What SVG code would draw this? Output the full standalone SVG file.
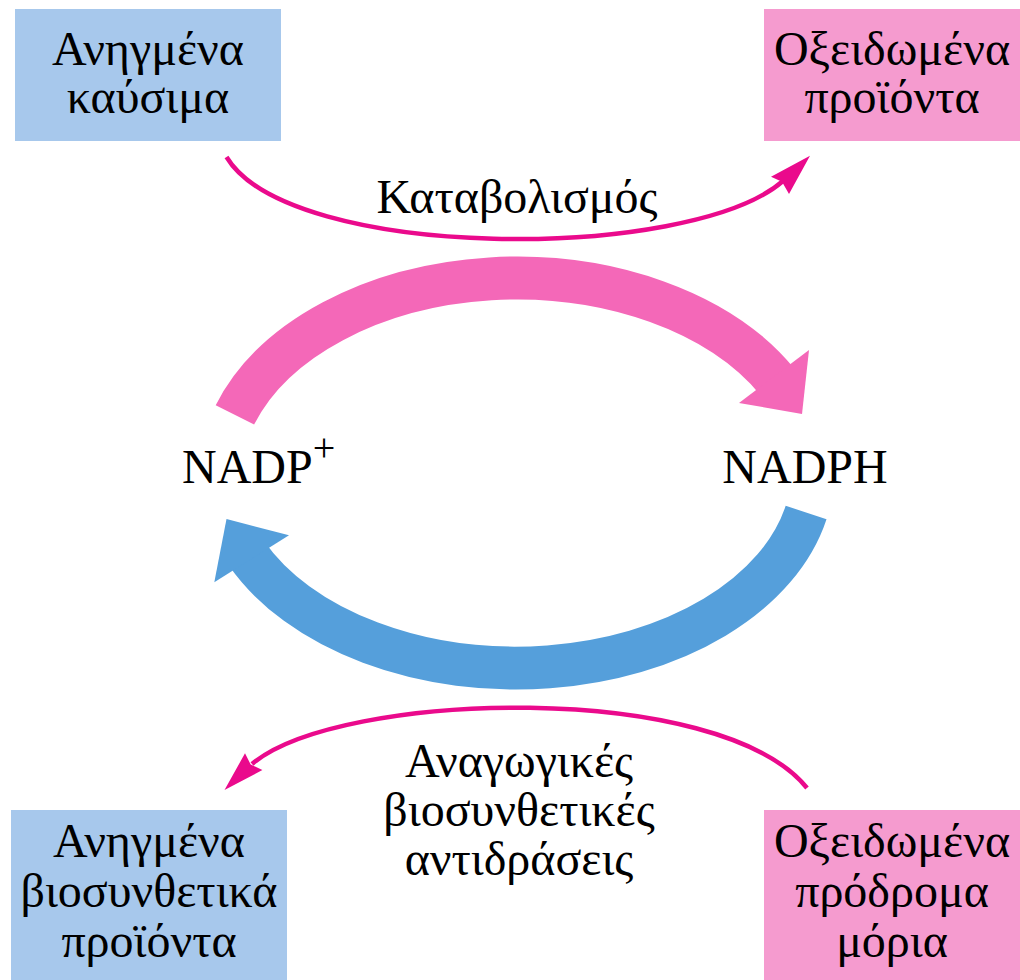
<svg xmlns="http://www.w3.org/2000/svg" width="1020" height="980" viewBox="0 0 1020 980">
<style>
.t{font-family:"Liberation Serif","Times New Roman",serif;font-size:48px;fill:#000;text-anchor:middle}
.blue{fill:#a7c8ec}
.pink{fill:#f59bcf}
.thin{fill:none;stroke:#ea0a8c;stroke-width:4.5}
.thinhead{fill:#ea0a8c}
</style>
<rect width="1020" height="980" fill="#fff"/>
<g id="reduced-fuels">
<rect class="blue" x="15" y="9" width="266" height="132"/>
<text class="t" x="148" y="65">Ανηγμένα</text>
<text class="t" x="148" y="113">καύσιμα</text>
</g>
<g id="oxidized-products">
<rect class="pink" x="764" y="9" width="256" height="132"/>
<text class="t" x="892" y="65">Οξειδωμένα</text>
<text class="t" x="892" y="113">προϊόντα</text>
</g>
<g id="reduced-biosynthetic">
<rect class="blue" x="11" y="810" width="276" height="170"/>
<text class="t" x="149" y="857">Ανηγμένα</text>
<text class="t" x="149" y="907">βιοσυνθετικά</text>
<text class="t" x="149" y="957">προϊόντα</text>
</g>
<g id="oxidized-precursors">
<rect class="pink" x="764" y="810" width="256" height="170"/>
<text class="t" x="892" y="857">Οξειδωμένα</text>
<text class="t" x="892" y="907">πρόδρομα</text>
<text class="t" x="892" y="957">μόρια</text>
</g>
<g id="nadp">
<text class="t" x="182" y="483" style="text-anchor:start">NADP<tspan dy="-22" font-size="40">+</tspan></text>
</g>
<g id="nadph">
<text class="t" x="805" y="483">NADPH</text>
</g>
<g id="connectors">
<path class="thin" d="M226.5,157 C290,262 690,262 783,181"/>
<polygon class="thinhead" points="810,155.7 771,176.7 782,181.7 789,194"/>
<text class="t" x="517" y="213">Καταβολισμός</text>
<path d="M234.9,414.9 A298,202 0 0 1 777.6,382.1" fill="none" stroke="#f468b8" stroke-width="43"/>
<polygon fill="#f468b8" points="809,350 802,414 739,403"/>
<path d="M806.1,512.5 A297,198 0 0 1 246.8,553.7" fill="none" stroke="#559fdb" stroke-width="43"/>
<polygon fill="#559fdb" points="226.5,519 289,535.3 214.3,582.3"/>
<path class="thin" d="M807,788 C720,680 340,690 252,764"/>
<polygon class="thinhead" points="224.5,790 245,753.3 250.7,764.6 262.4,770"/>
<text class="t" x="519" y="777">Αναγωγικές</text>
<text class="t" x="519" y="826">βιοσυνθετικές</text>
<text class="t" x="519" y="875">αντιδράσεις</text>
</g>
</svg>
